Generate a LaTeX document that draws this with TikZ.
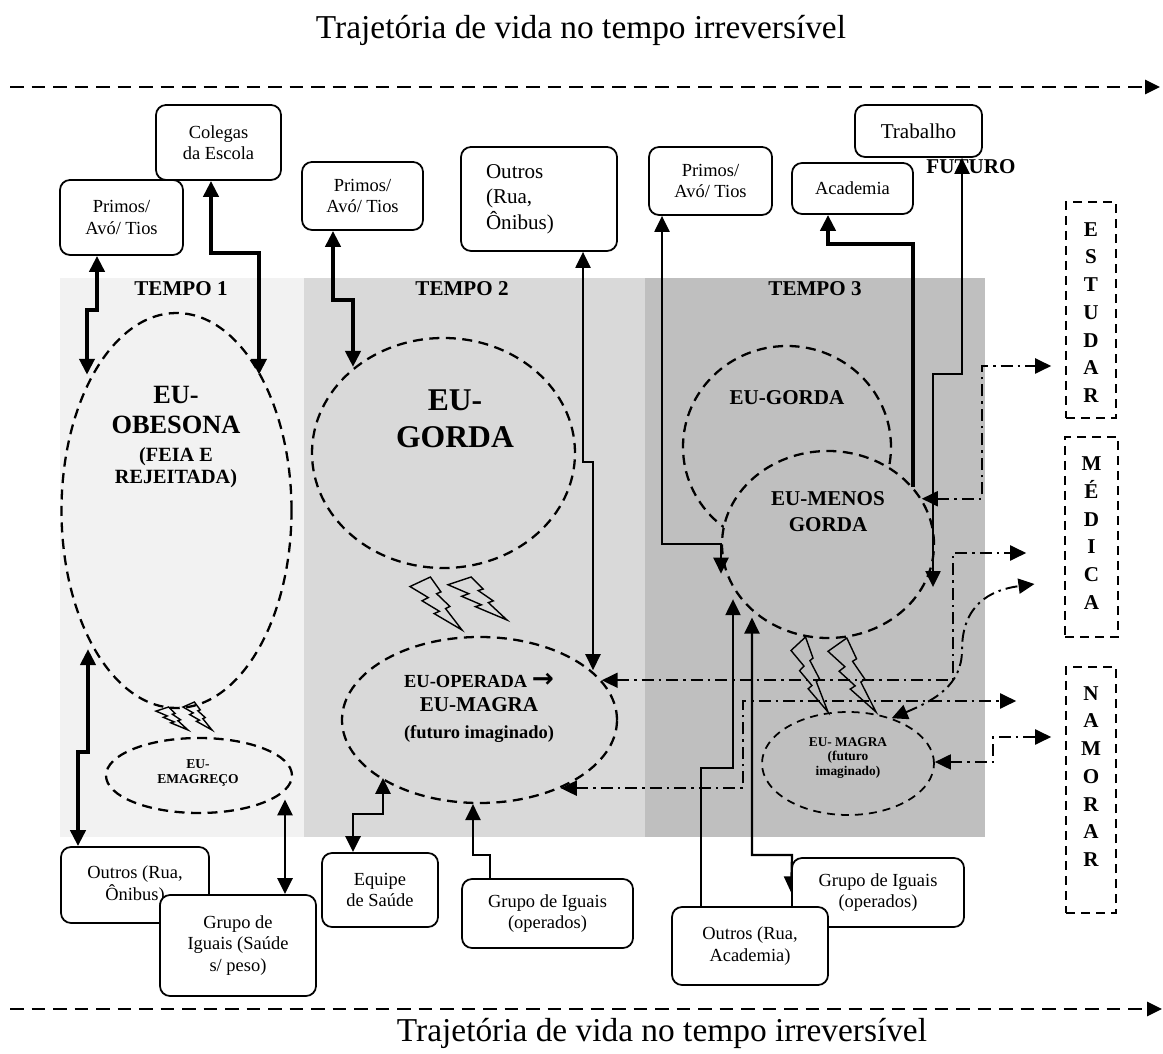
\documentclass[tikz,border=0pt]{standalone}
\usepackage{fontspec}
\setmainfont{Liberation Serif}
\newfontfamily\arrowfont{DejaVu Sans}
\usetikzlibrary{arrows.meta,shapes.geometric}
\definecolor{tone1}{HTML}{F2F2F2}
\definecolor{tone2}{HTML}{D9D9D9}
\definecolor{tone3}{HTML}{BFBFBF}
\pgfdeclarelayer{bg}
\pgfdeclarelayer{fg}
\pgfsetlayers{bg,main,fg}
\begin{document}
\begin{tikzpicture}[x=0.2mm,y=-0.2mm,>={Triangle[width=3mm,length=3.2mm]},
    box/.style={draw,line width=1pt,rounded corners=2mm,fill=white,align=center,inner sep=0pt,font=\fontsize{10.5}{12.2}\selectfont},
    vbox/.style={draw,line width=0.9pt,dash pattern=on 1.8mm off 1.2mm},
    vtxt/.style={align=center,font=\bfseries\fontsize{12}{15.8}\selectfont},
    self/.style={ellipse,draw,line width=1.3pt,dash pattern=on 2mm off 1.3mm,inner sep=0pt},
    tit/.style={font=\fontsize{19}{22}\selectfont},
    lab/.style={align=center,font=\bfseries\fontsize{12}{14.8}\selectfont},
    timeline/.style={line width=1.5pt,dash pattern=on 2.7mm off 1.6mm,-{Triangle[width=2.8mm,length=3mm]}},
    heavyln/.style={line width=2.45pt},
    midln/.style={line width=1.7pt},
    thinln/.style={line width=1.25pt},
    ddln/.style={line width=1.1pt,dash pattern=on 2.4mm off 1mm on 0.5mm off 1mm},
    bolt/.pic={\draw[line width=0.8pt] (0.392,0) -- (0.595,0.281) -- (0.512,0.315) -- (0.767,0.556) -- (0.684,0.596) -- (1,1)
        -- (0.464,0.690) -- (0.566,0.647) -- (0.232,0.449) -- (0.352,0.388) -- (0,0.180) -- cycle;}]
    \useasboundingbox (0,0) rectangle (1163,1054);
    \begin{pgfonlayer}{bg}
        \fill[tone1] (60,278) rectangle (304,837);
        \fill[tone2] (304,278) rectangle (645,837);
        \fill[tone3] (645,278) rectangle (985,837);
    \end{pgfonlayer}
    \node[tit] (toptitle) at (581,30) {Trajetória de vida no tempo irreversível};
    \node[tit] (bottitle) at (662,1033) {Trajetória de vida no tempo irreversível};
    \draw[timeline] (10,87) -- (1160,87);
    \draw[timeline] (10,1009) -- (1162,1009);
    \node[lab] (tempoA) at (181,289) {TEMPO 1};
    \node[lab] (tempoB) at (462,289) {TEMPO 2};
    \node[lab] (tempoC) at (815,289) {TEMPO 3};
    \node[lab] (futuro) at (971,167) {FUTURO};

    \node[self,minimum width=46mm,minimum height=79mm] (obesona) at (176.5,510.5) {};
    \node[self,minimum width=37.2mm,minimum height=15mm] (emagreco) at (199,775.5) {};
    \node[self,minimum width=52.6mm,minimum height=46mm] (gordaA) at (443.5,453) {};
    \node[self,minimum width=55mm,minimum height=33.2mm] (operada) at (479.5,720) {};
    \node[self,minimum width=41.6mm,minimum height=40.4mm] (gordaB) at (787,447) {};
    \node[self,fill=tone3,minimum width=42.4mm,minimum height=37.4mm] (menos) at (828,544.5) {};
    \node[self,line width=1pt,dash pattern=on 1.6mm off 1.2mm,minimum width=34.4mm,minimum height=20.6mm] (magra) at (848,763.5) {};

    \node[align=center,font=\bfseries\fontsize{11.5}{12.5}\selectfont] (obesonatxt) at (176,437)
        {{\fontsize{15}{17}\selectfont EU-}\\[4.5pt]{\fontsize{15}{17}\selectfont OBESONA}\\[3.5pt](FEIA E\\REJEITADA)};
    \node[align=center,font=\bfseries\fontsize{7.7}{9}\selectfont] (emagrecotxt) at (198,773) {EU-\\EMAGREÇO};
    \node[align=center,font=\bfseries\fontsize{18}{21}\selectfont] (gordaAtxt) at (455,418.5) {EU-\\GORDA};
    \node[align=center,font=\bfseries\fontsize{10.5}{13.7}\selectfont] (operadatxt) at (479,707.5)
        {EU-OPERADA {\arrowfont\fontsize{15}{13.7}\selectfont →}\\{\fontsize{12}{14}\selectfont EU-MAGRA}\\[1.7pt](futuro imaginado)};
    \node[lab] (gordaBtxt) at (787,398) {EU-GORDA};
    \node[lab] (menostxt) at (828,512) {EU-MENOS\\GORDA};
    \node[align=center,font=\bfseries\fontsize{7.6}{8.5}\selectfont] (magratxt) at (848,758) {EU- MAGRA\\(futuro\\imaginado)};

    \foreach \bx/\by/\bw/\bh in {156/707/32/23, 183/702/29/28, 410/577/52/53, 448/577/59/43, 791/637/37/75, 828/638/48/74}
        \pic[shift={(\bx,\by)},xscale=\bw,yscale=\bh] {bolt};

    \begin{pgfonlayer}{fg}
        \node[box,minimum width=24.6mm,minimum height=15mm] (primosA) at (121.5,217.5) {Primos/\\Avó/ Tios};
        \node[box,minimum width=25mm,minimum height=15mm] (colegas) at (218.5,142.5) {Colegas\\da Escola};
        \node[box,minimum width=24.2mm,minimum height=13.6mm] (primosB) at (362.5,196) {Primos/\\Avó/ Tios};
        \node[box,align=left,text width=21.2mm,inner xsep=5mm,minimum height=20.8mm,font=\fontsize{12}{14.5}\selectfont] (ruaB) at (539,199) {Outros\\(Rua,\\Ônibus)};
        \node[box,minimum width=24.6mm,minimum height=13.6mm] (primosC) at (710.5,181) {Primos/\\Avó/ Tios};
        \node[box,minimum width=24.2mm,minimum height=10.2mm] (academia) at (852.5,188.5) {Academia};
        \node[box,minimum width=25.4mm,minimum height=10.4mm,font=\fontsize{12}{14}\selectfont] (trabalho) at (918.5,131) {Trabalho};
        \node[box,minimum width=29.6mm,minimum height=15.2mm] (ruaA) at (135,885) {Outros (Rua,\\Ônibus)};
        \node[box,minimum width=31.2mm,minimum height=20.2mm] (iguaisA) at (238,945.5) {Grupo de\\Iguais (Saúde\\s/ peso)};
        \node[box,minimum width=23.2mm,minimum height=14.8mm] (equipe) at (380,890) {Equipe\\de Saúde};
        \node[box,minimum width=34.2mm,minimum height=13.8mm] (iguaisB) at (547.5,913.5) {Grupo de Iguais\\(operados)};
        \node[box,minimum width=34.4mm,minimum height=13.8mm] (iguaisC) at (878,892.5) {Grupo de Iguais\\(operados)};
        \node[box,minimum width=31.2mm,minimum height=15.6mm] (ruaC) at (750,946) {Outros (Rua,\\Academia)};
        \node[vbox,minimum width=10mm,minimum height=43.2mm,label={[vtxt,yshift=-0.5mm]center:E\\S\\T\\U\\D\\A\\R}] (estudar) at (1091,310) {};
        \node[vbox,minimum width=10.6mm,minimum height=40mm,label={[vtxt,yshift=0.8mm]center:M\\É\\D\\I\\C\\A}] (medica) at (1091.5,537) {};
        \node[vbox,minimum width=10mm,minimum height=49.2mm,label={[vtxt,yshift=2.7mm]center:N\\A\\M\\O\\R\\A\\R}] (namorar) at (1091,790) {};
    \end{pgfonlayer}

    \draw[heavyln,<->] (primosA.south -| 97,0) -- (97,310) -- (87,310) -- (87,0 |- obesona.122);
    \draw[heavyln,<->] (colegas.south -| 211,0) -- (211,253) -- (259,253) -- (259,0 |- obesona.58);
    \draw[heavyln,<->] (88,0 |- obesona.239) -- (88,752) -- (78,752) -- (ruaA.north -| 78,0);
    \draw[midln,<->] (285,0 |- emagreco.342) -- (iguaisA.north -| 285,0);
    \draw[heavyln,<->] (primosB.south -| 333,0) -- (333,300) -- (353,300) -- (353,0 |- gordaA.136);
    \draw[thinln,<->] (ruaB.south -| 583,0) -- (583,462) -- (593,462) -- (593,0 |- operada.24);
    \draw[midln,<->] (383,0 |- operada.210) -- (383,814) -- (353,814) -- (equipe.north -| 353,0);
    \draw[thinln,<-] (473,0 |- operada.266) -- (473,855) -- (490,855) -- (iguaisB.north -| 490,0);
    \draw[thinln,<->] (primosC.south -| 662,0) -- (662,544) -- (721,544) -- (721,0 |- menos.196);
    \draw[heavyln,<-] (academia.south -| 828,0) -- (828,244) -- (913,244) -- (913,0 |- menos.34);
    \draw[thinln,<->] (trabalho.south -| 962,0) -- (962,374) -- (933,374) -- (933,0 |- menos.336);
    \draw[thinln,<-] (733,0 |- menos.212) -- (733,768) -- (701,768) -- (ruaC.north -| 701,0);
    \draw[thinln,<->] (752,0 |- menos.227) -- (752,855) -- (792,855) -- (iguaisC.west);
    \draw[ddln,<->,shorten >=2.8mm] (menos.26) -- (982,0 |- menos.26) -- (982,366) -- (estudar.west |- 0,366);
    \draw[ddln,<->,shorten >=7.6mm] (operada.18) -- (953,0 |- operada.18) -- (953,553) -- (medica.west |- 0,553);
    \draw[ddln,<->,shorten >=6mm] (magra.46) .. controls (935,700) and (962,685) .. (962,650)
        .. controls (962,605) and (990,590) .. (medica.west |- 0,580);
    \draw[ddln,<->,shorten >=9.8mm] (operada.320) -- (743,0 |- operada.320) -- (743,701) -- (namorar.west |- 0,701);
    \draw[ddln,<->,shorten >=2.8mm] (magra.1) -- (993,0 |- magra.1) -- (993,737) -- (namorar.west |- 0,737);
\end{tikzpicture}
\end{document}
